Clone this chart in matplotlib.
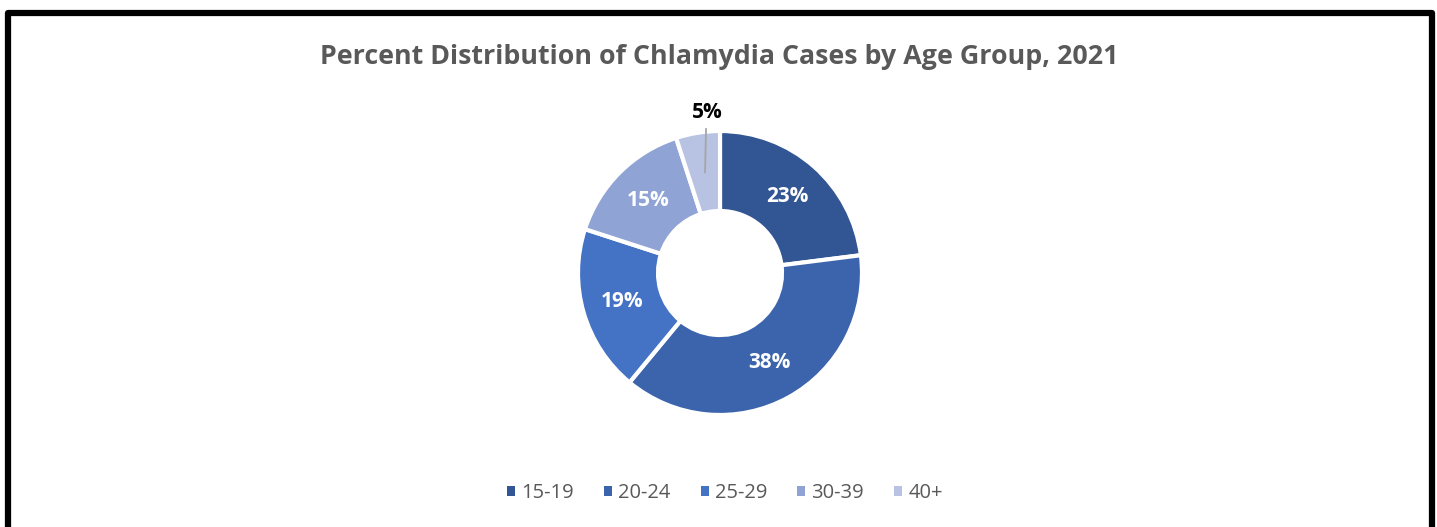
import numpy as np
import matplotlib
matplotlib.use("Agg")
import matplotlib.pyplot as plt
from matplotlib.patches import Patch, Rectangle

categories = ["15-19", "20-24", "25-29", "30-39", "40+"]
values = [23, 38, 19, 15, 5]
labels = ["23%", "38%", "19%", "15%", "5%"]
colors = ["#325593", "#3C64AD", "#4472C4", "#8FA3D5", "#B8C2E3"]
title = "Percent Distribution of Chlamydia Cases by Age Group, 2021"

W, H = 1437, 527
fig = plt.figure(figsize=(W / 100, H / 100), dpi=100)
ax = fig.add_axes([0, 0, 1, 1])
ax.set_xlim(0, W)
ax.set_ylim(0, H)
ax.axis("off")

cx, cy = 720, H - 273
R, r_in = 142, 62
wedges, _ = ax.pie(values, colors=colors, startangle=90, counterclock=False,
                   radius=R, center=(cx, cy),
                   wedgeprops=dict(width=R - r_in, edgecolor="white", linewidth=3))
ax.set_xlim(0, W)
ax.set_ylim(0, H)
ax.set_aspect("equal")

rmid = (R + r_in) / 2
for w, lab in zip(wedges, labels):
    ang = np.deg2rad((w.theta1 + w.theta2) / 2)
    if lab == "5%":
        x0 = cx + (R - 40) * np.cos(ang)
        ax.plot([x0 + 1, x0 + 2], [cy + (R - 40) * np.sin(ang), cy + R + 2],
                color="#A6A6A6", lw=1.3, zorder=5)
        ax.text(cx - 13, H - 113, lab, ha="center", va="center",
                fontsize=15, fontweight="bold", color="black", family="Open Sans")
    else:
        ax.text(cx + rmid * np.cos(ang), cy + rmid * np.sin(ang), lab,
                ha="center", va="center", fontsize=15, fontweight="bold",
                color="white", family="Open Sans")

ax.text(719, H - 57, title, ha="center", va="center", fontsize=19.3,
        fontweight="bold", color="#595959", family="Open Sans")

handles = [Patch(facecolor=c, edgecolor="none") for c in colors]
leg = fig.legend(handles, categories, loc="center", bbox_to_anchor=(725 / W, 1 - 493 / H),
                 ncol=5, frameon=False, handlelength=0.4, handleheight=0.4,
                 handletextpad=0.3, columnspacing=1.5,
                 prop=dict(family="Open Sans", size=14.5))
for t in leg.get_texts():
    t.set_color("#595959")

# black frame around the chart (bottom runs beyond the image)
ax.add_patch(Rectangle((8, -20), 1424, H - 13 + 20, fill=False,
                       edgecolor="black", linewidth=4.5, joinstyle="round", clip_on=False))

fig.savefig("out.png", dpi=100, facecolor="white")
